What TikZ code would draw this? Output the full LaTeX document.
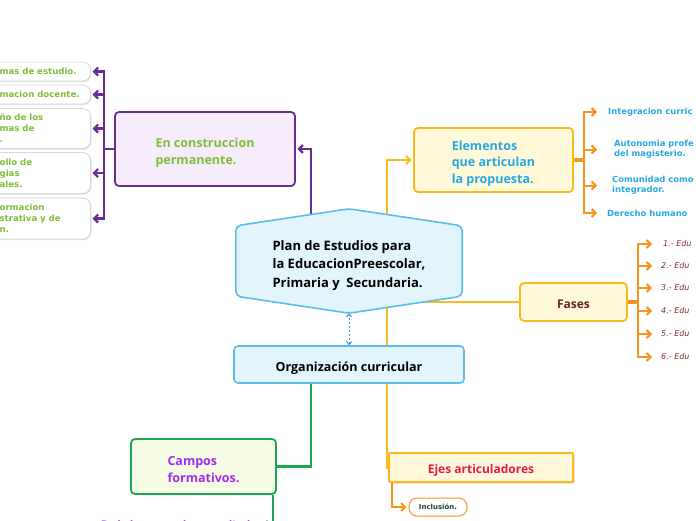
\documentclass[tikz,border=0pt]{standalone}
\usepackage{fontspec}
\setmainfont{Open Sans}
\newfontfamily\leaffont{DejaVu Sans}
\usetikzlibrary{positioning,arrows.meta,shadows,backgrounds}
\definecolor{purpline}{RGB}{106,44,145}
\definecolor{purpfill}{RGB}{246,236,251}
\definecolor{leafgreen}{RGB}{128,189,58}
\definecolor{goldline}{RGB}{253,184,30}
\definecolor{goldfill}{RGB}{255,249,218}
\definecolor{orng}{RGB}{247,148,29}
\definecolor{skytext}{RGB}{39,168,225}
\definecolor{skyline}{RGB}{91,190,234}
\definecolor{skyfill}{RGB}{226,244,252}
\definecolor{dashblue}{RGB}{58,142,228}
\definecolor{wine}{RGB}{110,32,42}
\definecolor{winetext}{RGB}{125,45,48}
\definecolor{grnline}{RGB}{27,168,84}
\definecolor{grnfill}{RGB}{246,252,228}
\definecolor{camptext}{RGB}{161,45,240}
\definecolor{crimson}{RGB}{229,26,76}
\definecolor{darkleaf}{RGB}{30,70,58}
\definecolor{pillgray}{RGB}{215,215,215}
\newcommand\toplift[1]{\rule{0pt}{#1pt}}
\tikzset{
	>={Straight Barb[length=4pt,width=8pt]},
	topic/.style={draw, rounded corners=4pt, line width=1.8pt, align=left,
		font=\fontsize{12.5}{17}\selectfont\bfseries},
	pill/.style={draw=pillgray, fill=white, line width=.8pt, rounded corners=8pt,
		drop shadow={shadow xshift=.8pt, shadow yshift=-1.2pt, opacity=.25},
		anchor=east, inner xsep=8pt, inner ysep=0pt, text width=83pt, align=left,
		text=leafgreen, font=\leaffont\fontsize{8.6}{11}\selectfont\bfseries},
	skyleaf/.style={anchor=west, inner sep=0pt, align=left, text=skytext,
		font=\leaffont\fontsize{8.4}{9.8}\selectfont\bfseries},
	phase/.style={anchor=west, inner sep=0pt, text=winetext,
		font=\leaffont\fontsize{8}{9.5}\selectfont\itshape},
	purp/.style={draw=purpline, line width=2.2pt},
	gold/.style={draw=goldline, line width=2pt},
	orngline/.style={draw=orng, line width=2pt},
	grn/.style={draw=grnline, line width=2.5pt},
}

\begin{document}
\begin{tikzpicture}[x=1pt, y=-1pt]
	\useasboundingbox (0,0) rectangle (696,520);

	% centre
	\node[align=left, minimum width=226pt, minimum height=104pt,
		font=\fontsize{13}{18.5}\selectfont\bfseries] (plan) at (349,261)
		{\toplift{19}Plan de Estudios para\\la EducacionPreescolar,\\Primaria y\ \ Secundaria.};
	\node[topic, draw=skyline, fill=skyfill, line width=1.6pt, minimum width=230pt,
		minimum height=37pt, font=\fontsize{12.5}{15}\selectfont\bfseries] (org) at (349,364.5)
		{\toplift{16}Organización curricular};

	% main topics
	\node[topic, draw=purpline, fill=purpfill, text=leafgreen, minimum width=180pt,
		minimum height=74pt] (constr) at (205,149) {\toplift{16}En construccion\\permanente.};
	\node[topic, draw=goldline, fill=goldfill, text=skytext, minimum width=159pt,
		minimum height=64pt, font=\fontsize{12.5}{16.5}\selectfont\bfseries] (elem) at (493.5,160)
		{\toplift{16}Elementos\\que articulan\\la propuesta.};
	\node[topic, draw=goldline, fill=goldfill, text=wine, minimum width=107pt,
		minimum height=38pt, font=\fontsize{12}{15}\selectfont\bfseries] (fases) at (573.5,302)
		{\toplift{13}Fases};
	\node[topic, draw=goldline, fill=goldfill, text=crimson, rounded corners=1pt,
		minimum width=184pt, minimum height=29pt, font=\fontsize{12}{15}\selectfont\bfseries,
		drop shadow={shadow xshift=1.5pt, shadow yshift=-1.5pt, opacity=.3}] (ejes) at (481,467.5)
		{\toplift{14}Ejes articuladores};
	\node[topic, draw=grnline, fill=grnfill, text=camptext, minimum width=145pt,
		minimum height=55pt] (campos) at (203.5,466.5) {\toplift{16}Campos\\formativos.};

	% subtopics
	\node[pill, minimum height=19pt] (p1) at (91,71.5) {mas de estudio.};
	\node[pill, minimum height=19pt] (p2) at (91,94.5) {macion docente.};
	\node[pill, minimum height=40pt] (p3) at (91,128.5) {ño de los\\mas de\\.};
	\node[pill, minimum height=41pt] (p4) at (91,173) {ollo de\\gias\\ales.};
	\node[pill, minimum height=41pt] (p5) at (91,218.5) {ormacion\\strativa y de\\n.};

	\node[skyleaf] (ic) at (608,112) {Integracion curric};
	\node[skyleaf] (ap) at (614,149.5) {Autonomia profe\\del magisterio.};
	\node[skyleaf] (cc) at (612,185.5) {Comunidad como\\integrador.};
	\node[skyleaf] (dh) at (607,213) {Derecho humano};

	\node[phase] (f1) at (663,244) {1.- Edu};
	\node[phase] (f2) at (661,266) {2.- Edu};
	\node[phase] (f3) at (661,288) {3.- Edu};
	\node[phase] (f4) at (661,311) {4.- Edu};
	\node[phase] (f5) at (661,334) {5.- Edu};
	\node[phase] (f6) at (661,357) {6.- Edu};

	\node[draw=orng, fill=white, line width=1pt, rounded corners=8pt, minimum width=58pt,
		minimum height=18pt, inner sep=0pt, text=darkleaf,
		font=\leaffont\fontsize{7}{8}\selectfont\bfseries] (incl) at (438,507) {Inclusión.};
	\node[anchor=east, inner xsep=2pt, text=camptext,
		font=\leaffont\fontsize{9}{11}\selectfont\bfseries] (cf) at (262,525)
		{De lo humano y lo comunitario.};

	% connectors
	\begin{scope}[on background layer]
		\draw[purp, ->, shorten >=1.5pt] ([xshift=-38pt]plan.center) |- (constr.east);
		\foreach \n in {p1,p2,p3,p4,p5}
			\draw[purp, ->, shorten >=1.5pt] (constr.west) -- ++(-10,0) |- (\n.east);
		\draw[gold, ->, shorten >=1.5pt] ([xshift=38pt]plan.center) |- (elem.west);
		\draw[gold] ([xshift=38pt]plan.center) |- (ejes.west);
		\draw[gold] (plan.center |- fases.west) -- (fases.west);
		\draw[orngline, line width=3.5pt] (elem.east) -- ++(10,0);
		\foreach \n/\s in {ic/11,ap/17,cc/15,dh/10}
			\draw[orngline, ->, shorten >=\s pt] (elem.east) -- ++(10,0) |- (\n.west);
		\draw[orngline, line width=3.5pt] (fases.east) -- ++(10,0);
		\foreach \n/\s in {f1/11,f2/9,f3/9,f4/9,f5/9,f6/9}
			\draw[orngline, ->, shorten >=\s pt] (fases.east) -- ++(10,0) |- (\n.west);
		\draw[orngline, ->, shorten >=2pt] ([xshift=4pt]ejes.south west) |- (incl.west);
		\draw[grn] ([xshift=-38pt]org.center) |- (campos.east);
		\draw[grn, ->] ([xshift=-4pt]campos.south east) |- (cf.east);
		\draw[dashblue, line width=1pt, dash pattern=on 2pt off 2pt,
			{Straight Barb[length=3pt,width=5pt]}-{Straight Barb[length=3pt,width=5pt]}]
			(plan.south) -- (org.north);
	\end{scope}
	\begin{scope}[on background layer]
		\draw[draw=skyline, fill=skyfill, line width=1.6pt, rounded corners=5pt]
			(plan.north) -- ([yshift=-17pt]plan.north east) -- ([yshift=17pt]plan.south east)
			-- (plan.south) -- ([yshift=17pt]plan.south west) -- ([yshift=-17pt]plan.north west)
			-- cycle;
	\end{scope}
\end{tikzpicture}
\end{document}
